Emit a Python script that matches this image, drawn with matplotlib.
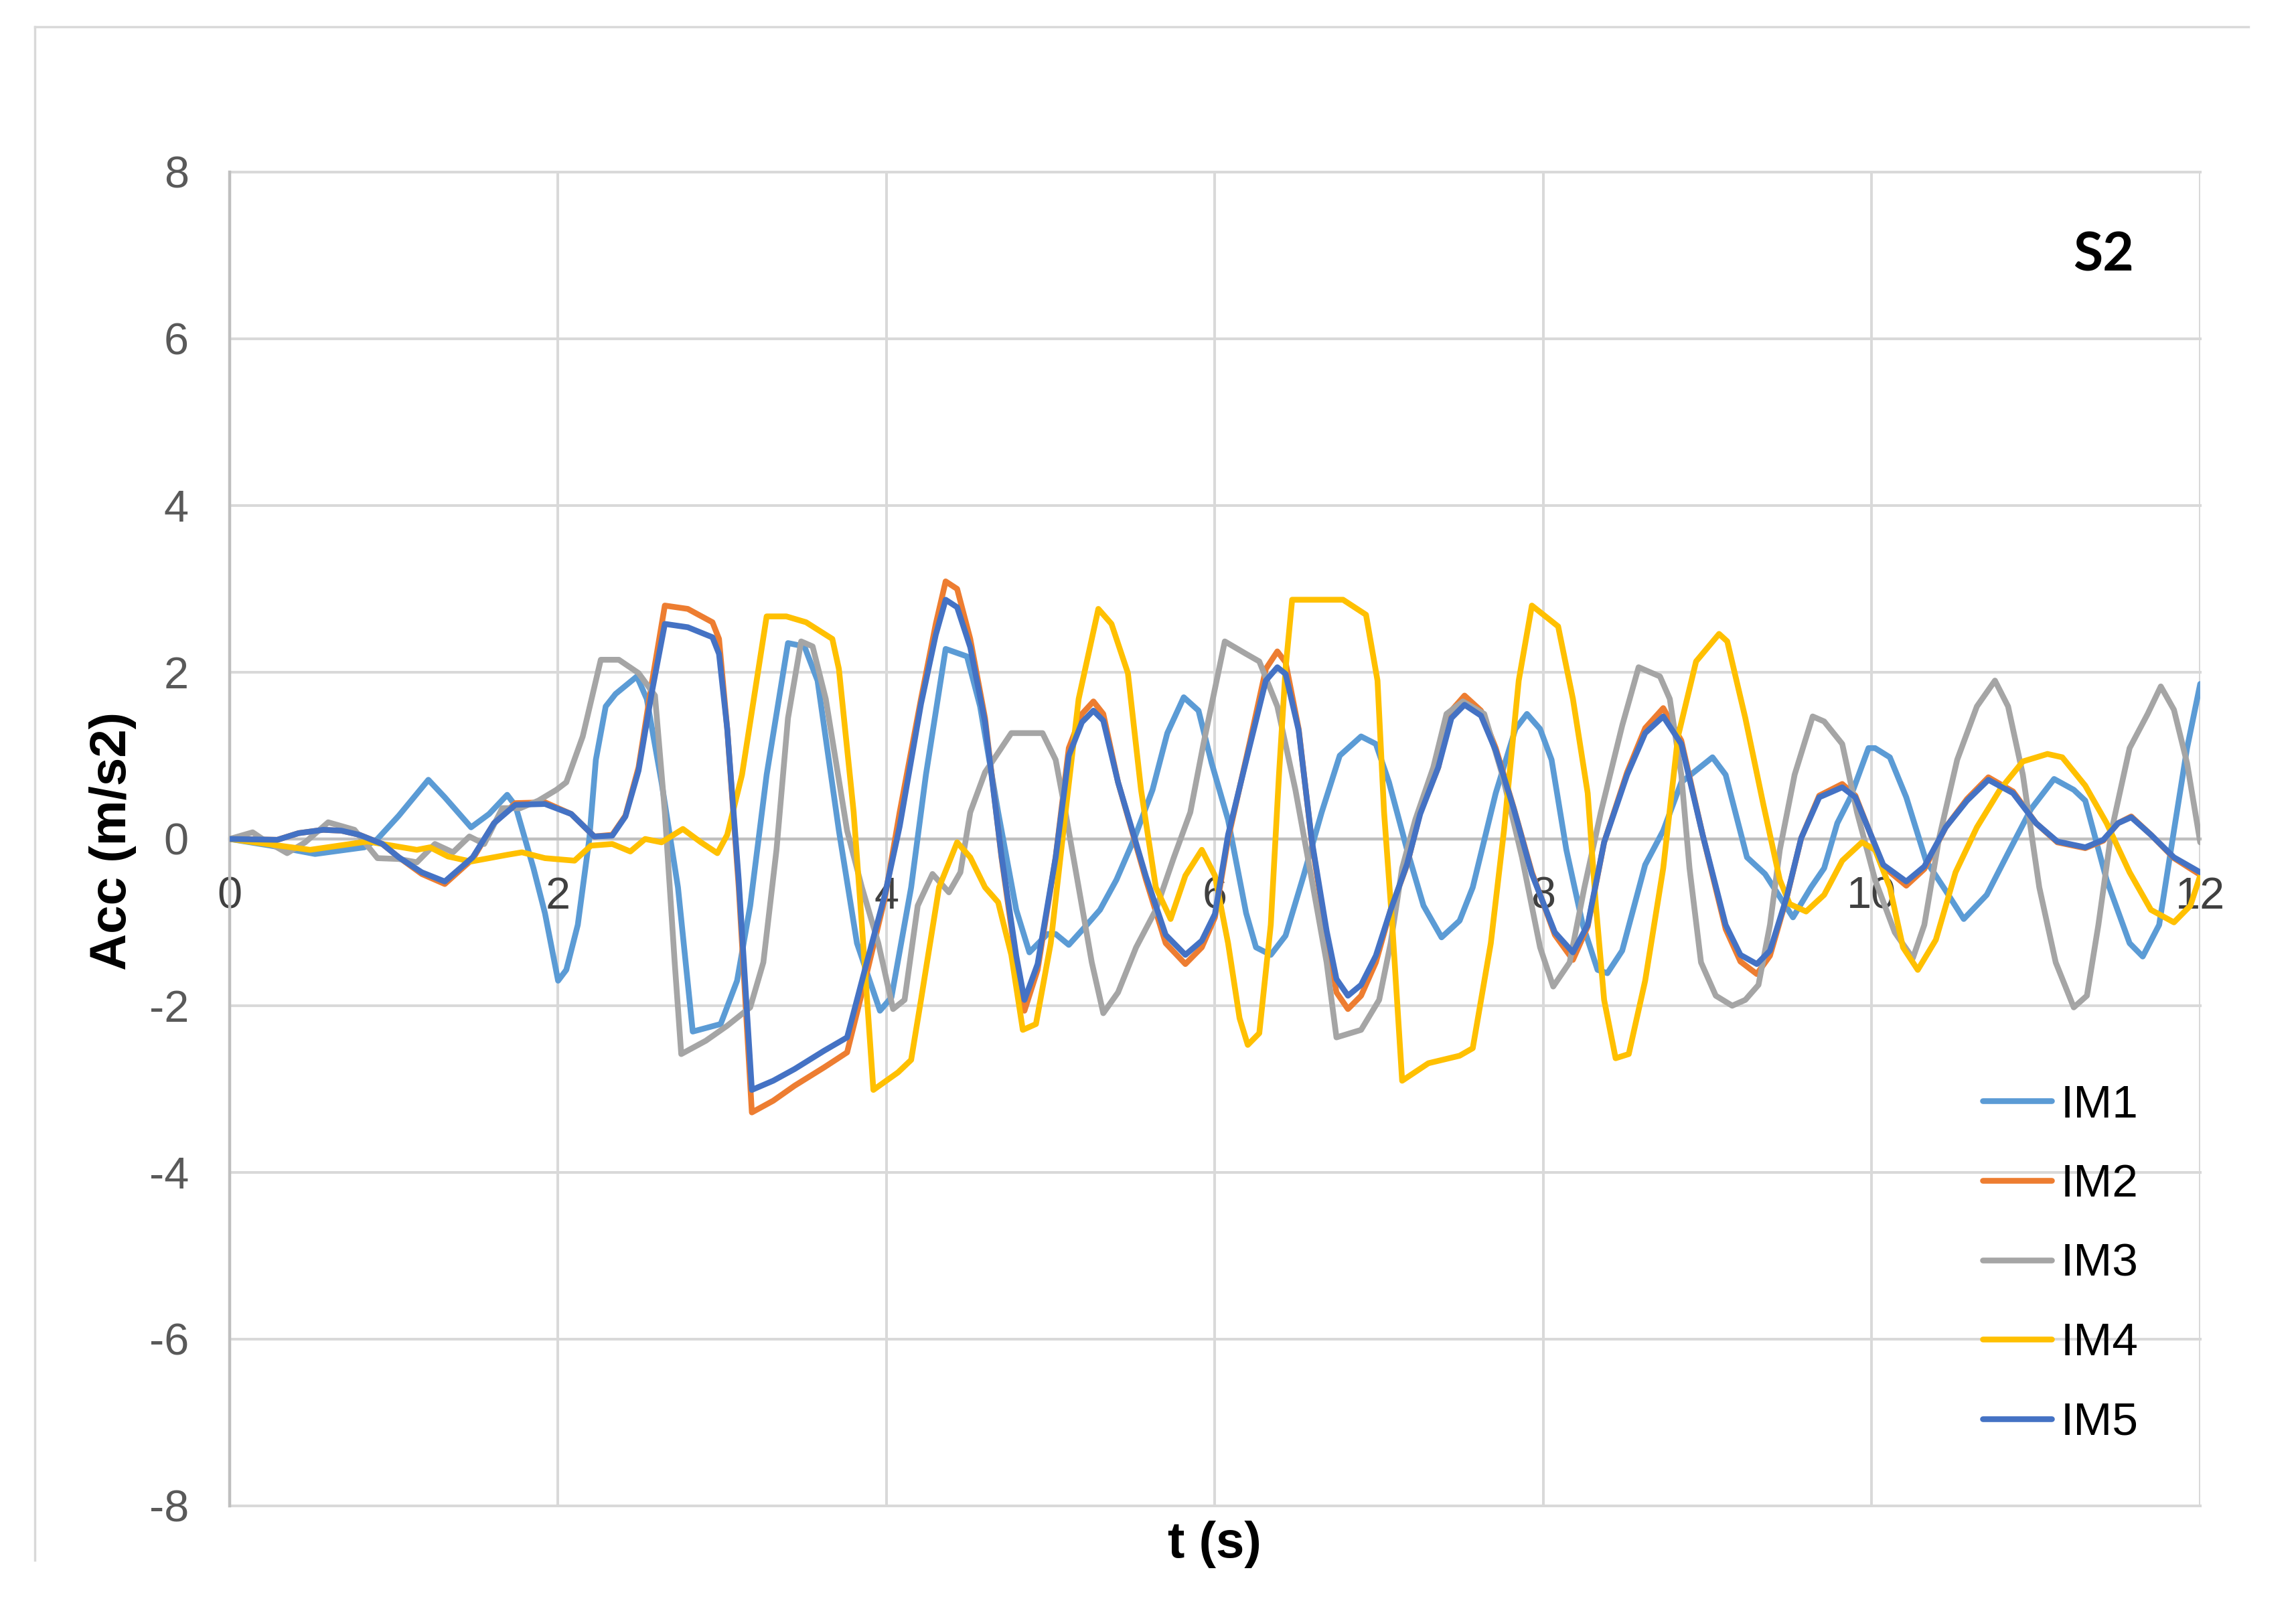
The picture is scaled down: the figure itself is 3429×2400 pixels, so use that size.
import matplotlib
matplotlib.use("Agg")
import matplotlib.pyplot as plt
from matplotlib.lines import Line2D

# series (t in s, acc in m/s2)
t_im1 = [0.0, 0.25, 0.52, 0.82, 0.90, 1.03, 1.21, 1.31, 1.47, 1.58, 1.69, 1.74,
         1.85, 1.92, 2.0, 2.05, 2.12, 2.19, 2.23, 2.29, 2.35, 2.48, 2.54, 2.63,
         2.73, 2.82, 2.99, 3.09, 3.17, 3.27, 3.40, 3.50, 3.58, 3.71, 3.82, 3.96,
         4.03, 4.15, 4.24, 4.36, 4.49, 4.57, 4.68, 4.79, 4.87, 4.98, 5.03, 5.11,
         5.22, 5.30, 5.40, 5.51, 5.62, 5.71, 5.81, 5.90, 5.98, 6.08, 6.19, 6.25,
         6.34, 6.43, 6.54, 6.65, 6.76, 6.89, 6.98, 7.06, 7.17, 7.27, 7.38, 7.49,
         7.57, 7.71, 7.83, 7.90, 7.98, 8.05, 8.14, 8.24, 8.33, 8.39, 8.48, 8.62,
         8.73, 8.84, 9.03, 9.11, 9.24, 9.35, 9.52, 9.63, 9.71, 9.79, 9.87, 9.98,
         10.02, 10.11, 10.21, 10.33, 10.45, 10.56, 10.70, 10.83, 10.97, 11.11,
         11.23, 11.30, 11.43, 11.57, 11.65, 11.75, 11.84, 11.92, 12.0]
a_im1 = [0.0, -0.08, -0.18, -0.10, 0.0, 0.28, 0.71, 0.50, 0.14, 0.30, 0.53, 0.40,
         -0.35, -0.89, -1.70, -1.57, -1.03, 0.0, 0.95, 1.59, 1.74, 1.95, 1.68, 0.68,
         -0.58, -2.31, -2.22, -1.70, -0.80, 0.77, 2.35, 2.31, 1.90, 0.10, -1.25, -2.06,
         -1.90, -0.58, 0.77, 2.28, 2.19, 1.59, 0.32, -0.85, -1.36, -1.14, -1.14, -1.27,
         -1.03, -0.85, -0.49, 0.01, 0.59, 1.27, 1.70, 1.54, 0.91, 0.23, -0.89, -1.30,
         -1.39, -1.16, -0.44, 0.32, 1.00, 1.23, 1.14, 0.68, -0.13, -0.80, -1.18, -0.98,
         -0.58, 0.55, 1.32, 1.50, 1.32, 0.95, -0.13, -1.03, -1.57, -1.61, -1.34, -0.31,
         0.10, 0.68, 0.98, 0.77, -0.22, -0.42, -0.94, -0.58, -0.35, 0.19, 0.50, 1.09,
         1.09, 0.98, 0.50, -0.26, -0.62, -0.96, -0.67, -0.17, 0.36, 0.72,
         0.59, 0.46, -0.49, -1.25, -1.41, -1.03, 0.10, 1.09, 1.86]

t_im2 = [0.0, 0.29, 0.42, 0.57, 0.68, 0.79, 0.93, 1.03, 1.17, 1.31, 1.48, 1.61,
         1.74, 1.92, 2.08, 2.22, 2.33, 2.41, 2.49, 2.57, 2.65, 2.79, 2.94, 2.98,
         3.03, 3.10, 3.18, 3.31, 3.44, 3.62, 3.76, 3.88, 3.99, 4.08, 4.21, 4.30,
         4.36, 4.43, 4.51, 4.60, 4.70, 4.79, 4.84, 4.92, 5.03, 5.11, 5.19, 5.26,
         5.32, 5.41, 5.58, 5.70, 5.82, 5.92, 6.00, 6.08, 6.21, 6.31, 6.38, 6.43,
         6.51, 6.59, 6.68, 6.74, 6.81, 6.89, 6.98, 7.07, 7.17, 7.25, 7.36, 7.44,
         7.52, 7.62, 7.71, 7.82, 7.93, 8.07, 8.18, 8.27, 8.37, 8.51, 8.62, 8.73,
         8.84, 8.97, 9.11, 9.20, 9.30, 9.38, 9.48, 9.57, 9.68, 9.82, 9.90, 10.07,
         10.21, 10.32, 10.45, 10.58, 10.71, 10.86, 11.0, 11.13, 11.30, 11.41,
         11.50, 11.58, 11.70, 11.84, 12.0]
a_im2 = [0.0, -0.01, 0.07, 0.11, 0.10, 0.05, -0.06, -0.22, -0.42, -0.54, -0.24, 0.19,
         0.43, 0.44, 0.30, 0.03, 0.05, 0.28, 0.86, 1.86, 2.80, 2.76, 2.60, 2.40,
         1.32, -0.58, -3.28, -3.14, -2.96, -2.74, -2.56, -1.61, -0.71, 0.32, 1.68, 2.58,
         3.09, 3.00, 2.40, 1.45, -0.22, -1.48, -2.06, -1.57, -0.22, 1.09, 1.50, 1.65,
         1.50, 0.68, -0.49, -1.25, -1.50, -1.30, -0.94, 0.0, 1.14, 2.04, 2.25, 2.12,
         1.32, -0.04, -1.16, -1.84, -2.04, -1.88, -1.48, -0.85, -0.31, 0.32, 0.86, 1.54,
         1.72, 1.54, 1.09, 0.37, -0.40, -1.15, -1.45, -1.05, -0.04, 0.80, 1.33, 1.57,
         1.18, 0.05, -1.08, -1.47, -1.62, -1.40, -0.72, 0.01, 0.52, 0.66, 0.52, -0.33,
         -0.56, -0.36, 0.14, 0.48, 0.74, 0.57, 0.19, -0.04, -0.11, -0.02,
         0.19, 0.27, 0.05, -0.23, -0.43]

t_im3 = [0.0, 0.14, 0.20, 0.35, 0.46, 0.60, 0.76, 0.90, 1.03, 1.14, 1.25, 1.36,
         1.46, 1.55, 1.66, 1.77, 1.88, 1.99, 2.05, 2.15, 2.26, 2.37, 2.49, 2.59,
         2.65, 2.71, 2.75, 2.90, 3.03, 3.17, 3.25, 3.33, 3.40, 3.48, 3.55, 3.63,
         3.76, 3.85, 3.95, 4.04, 4.11, 4.19, 4.28, 4.38, 4.45, 4.51, 4.60, 4.76,
         4.95, 5.03, 5.09, 5.17, 5.25, 5.32, 5.41, 5.52, 5.64, 5.75, 5.85, 5.93,
         6.06, 6.19, 6.27, 6.38, 6.49, 6.59, 6.68, 6.74, 6.89, 7.0, 7.07, 7.14,
         7.22, 7.33, 7.41, 7.51, 7.64, 7.75, 7.87, 7.98, 8.06, 8.16, 8.25, 8.35,
         8.48, 8.58, 8.71, 8.77, 8.84, 8.89, 8.96, 9.05, 9.15, 9.23, 9.31, 9.38,
         9.44, 9.53, 9.64, 9.71, 9.82, 9.91, 10.02, 10.14, 10.25, 10.32, 10.41,
         10.52, 10.64, 10.75, 10.83, 10.92, 11.02, 11.12, 11.23, 11.31, 11.38,
         11.46, 11.57, 11.68, 11.76, 11.84, 11.92, 12.0]
a_im3 = [0.0, 0.08, 0.0, -0.17, -0.04, 0.20, 0.11, -0.23, -0.24, -0.28, -0.06, -0.16,
         0.03, -0.06, 0.37, 0.37, 0.46, 0.59, 0.68, 1.23, 2.15, 2.15, 1.99, 1.72,
         0.32, -1.48, -2.58, -2.42, -2.24, -2.02, -1.48, -0.13, 1.45, 2.37, 2.31, 1.68,
         0.10, -0.58, -1.25, -2.04, -1.93, -0.80, -0.42, -0.64, -0.40, 0.32, 0.80, 1.27,
         1.27, 0.95, 0.32, -0.58, -1.48, -2.09, -1.84, -1.30, -0.85, -0.22, 0.32, 1.14,
         2.37, 2.22, 2.13, 1.59, 0.59, -0.49, -1.48, -2.38, -2.29, -1.93, -1.25, -0.35,
         0.23, 0.86, 1.50, 1.65, 1.50, 0.77, -0.22, -1.30, -1.77, -1.48, -0.58, 0.32,
         1.36, 2.06, 1.95, 1.68, 0.77, -0.35, -1.48, -1.88, -2.00, -1.93, -1.75, -1.03,
         -0.13, 0.77, 1.47, 1.41, 1.14, 0.32, -0.49, -1.12, -1.43, -1.03, 0.01,
         0.95, 1.59, 1.90, 1.59, 0.77, -0.58, -1.48, -2.02, -1.88, -1.03,
         0.10, 1.09, 1.50, 1.83, 1.55, 0.91, -0.04]

t_im4 = [0.0, 0.49, 0.84, 1.14, 1.22, 1.33, 1.47, 1.58, 1.69, 1.78, 1.92, 2.10,
         2.20, 2.33, 2.44, 2.53, 2.63, 2.76, 2.87, 2.97, 3.03, 3.12, 3.27, 3.39,
         3.51, 3.67, 3.71, 3.80, 3.85, 3.92, 4.07, 4.15, 4.21, 4.32, 4.43, 4.51,
         4.60, 4.68, 4.76, 4.83, 4.91, 5.00, 5.09, 5.17, 5.29, 5.37, 5.47, 5.55,
         5.64, 5.73, 5.82, 5.92, 6.00, 6.08, 6.15, 6.20, 6.27, 6.34, 6.39, 6.43,
         6.47, 6.62, 6.78, 6.92, 6.99, 7.03, 7.08, 7.14, 7.30, 7.49, 7.57, 7.68,
         7.76, 7.85, 7.93, 8.09, 8.18, 8.27, 8.32, 8.37, 8.44, 8.52, 8.62, 8.73,
         8.82, 8.93, 9.07, 9.12, 9.23, 9.34, 9.44, 9.50, 9.60, 9.71, 9.82, 9.94,
         10.02, 10.11, 10.19, 10.28, 10.39, 10.51, 10.64, 10.78, 10.92, 11.07,
         11.16, 11.30, 11.43, 11.57, 11.70, 11.84, 11.94, 12.0]
a_im4 = [0.0, -0.13, -0.03, -0.13, -0.10, -0.21, -0.27, -0.23, -0.19, -0.16, -0.23, -0.26,
         -0.08, -0.06, -0.15, 0.0, -0.04, 0.12, -0.04, -0.17, 0.05, 0.77, 2.67, 2.67,
         2.60, 2.40, 2.04, 0.32, -1.03, -3.01, -2.80, -2.65, -1.93, -0.58, -0.04, -0.22,
         -0.58, -0.76, -1.39, -2.29, -2.22, -1.25, 0.32, 1.68, 2.76, 2.58, 1.99, 0.59,
         -0.58, -0.96, -0.44, -0.13, -0.44, -1.25, -2.15, -2.47, -2.33, -1.03, 0.77, 2.04,
         2.87, 2.87, 2.87, 2.69, 1.90, 0.32, -1.03, -2.90, -2.69, -2.60, -2.51, -1.25,
         0.10, 1.90, 2.80, 2.55, 1.68, 0.55, -0.80, -1.93, -2.63, -2.58, -1.70, -0.35,
         1.23, 2.13, 2.46, 2.37, 1.45, 0.41, -0.49, -0.78, -0.87, -0.67, -0.26, -0.04,
         -0.13, -0.58, -1.30, -1.57, -1.21, -0.40, 0.14, 0.59, 0.93, 1.02,
         0.98, 0.64, 0.19, -0.40, -0.85, -1.00, -0.80, -0.44]

t_im5 = t_im2
a_im5 = [0.0, -0.01, 0.07, 0.11, 0.10, 0.05, -0.06, -0.22, -0.40, -0.51, -0.22, 0.19,
         0.41, 0.42, 0.30, 0.03, 0.04, 0.27, 0.82, 1.75, 2.58, 2.54, 2.42, 2.22,
         1.32, -0.49, -3.01, -2.90, -2.76, -2.54, -2.38, -1.48, -0.67, 0.15, 1.62, 2.45,
         2.87, 2.78, 2.30, 1.40, -0.20, -1.40, -1.93, -1.50, -0.22, 1.00, 1.40, 1.54,
         1.42, 0.68, -0.45, -1.15, -1.39, -1.22, -0.90, 0.05, 1.10, 1.90, 2.06, 1.98,
         1.30, -0.02, -1.10, -1.68, -1.88, -1.75, -1.40, -0.85, -0.30, 0.30, 0.86, 1.45,
         1.61, 1.48, 1.06, 0.36, -0.42, -1.12, -1.36, -1.03, -0.04, 0.77, 1.27, 1.47,
         1.14, 0.05, -1.03, -1.39, -1.50, -1.34, -0.71, 0.01, 0.50, 0.62, 0.50, -0.31,
         -0.51, -0.33, 0.14, 0.46, 0.71, 0.55, 0.19, -0.03, -0.10, -0.01,
         0.19, 0.26, 0.05, -0.22, -0.40]

names = ["IM1", "IM2", "IM3", "IM4", "IM5"]
colors = ["#5B9BD5", "#ED7D31", "#A5A5A5", "#FFC000", "#4472C4"]
x_ticks = [0, 2, 4, 6, 8, 10, 12]
y_ticks = [-8, -6, -4, -2, 0, 2, 4, 6, 8]

plt.rcParams["font.family"] = ["Liberation Sans", "DejaVu Sans"]
plt.rcParams["axes.unicode_minus"] = False

fig = plt.figure(figsize=(34.3, 24), dpi=100)
ax = fig.add_axes([0.1, 0.06292, 0.858, 0.83])

series = [(t_im1, a_im1), (t_im2, a_im2), (t_im3, a_im3), (t_im4, a_im4), (t_im5, a_im5)]
for (t, a), name, c in zip(series, names, colors):
    ax.plot(t, a, color=c, lw=6.2, label=name, solid_joinstyle="round",
            solid_capstyle="round", zorder=3)

ax.set_xlim(0, 12)
ax.set_ylim(-8, 8)
ax.set_xticks(x_ticks)
ax.set_yticks(y_ticks)
ax.grid(True, color="#D9D9D9", lw=2.9, zorder=0)
for gl in ax.get_xgridlines() + ax.get_ygridlines():
    gl.set_clip_on(False)

# axis lines: y spine on the left, x axis through zero
ax.spines["top"].set_visible(False)
ax.spines["right"].set_visible(False)
ax.spines["left"].set_color("#BFBFBF")
ax.spines["left"].set_linewidth(3.2)
ax.spines["bottom"].set_position(("data", 0))
ax.spines["bottom"].set_color("#BFBFBF")
ax.spines["bottom"].set_linewidth(3.2)
ax.spines["left"].set_zorder(2)
ax.spines["bottom"].set_zorder(2)

ax.tick_params(axis="x", length=0, pad=40, labelsize=48, labelcolor="#404040")
ax.tick_params(axis="y", length=0, pad=44, labelsize=48, labelcolor="#595959")

fig.text(0.049, 0.4767, "Acc (m/s2)", rotation=90, ha="center", va="center",
         fontsize=55, fontweight="bold", color="black")
fig.text(0.5289, 0.039, "t (s)", ha="center", va="center",
         fontsize=55, fontweight="bold", color="black")
fig.text(0.916, 0.841, "S2", ha="center", va="center", fontsize=58,
         fontweight="bold", color="black", family=["Lato", "DejaVu Sans"])

leg = ax.legend(loc="upper left", bbox_to_anchor=(0.8633, 0.3255),
                bbox_transform=fig.transFigure, frameon=False, fontsize=50,
                handlelength=1.48, handletextpad=0.2, labelspacing=0.785,
                borderpad=0, borderaxespad=0)
for h in leg.get_lines():
    h.set_linewidth(6.2)
for txt in leg.get_texts():
    txt.set_color("black")

# outer chart frame (top and left edges visible)
fig.add_artist(Line2D([52 / 3430, 3358 / 3430], [1 - 40 / 2400, 1 - 40 / 2400],
                      color="#D9D9D9", lw=2.5))
fig.add_artist(Line2D([52 / 3430, 52 / 3430], [1 - 40 / 2400, 1 - 2330 / 2400],
                      color="#D9D9D9", lw=2.5))

fig.savefig("out.png", dpi=100)
